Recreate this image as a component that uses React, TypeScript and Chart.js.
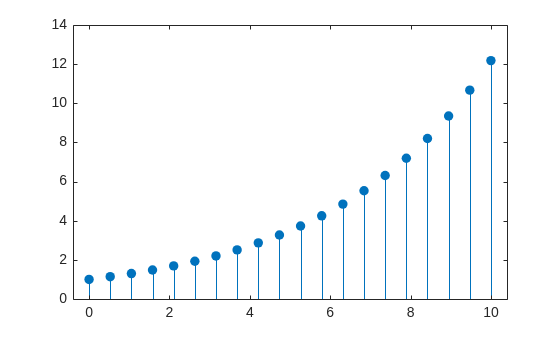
import React, { useEffect, useRef } from "react";
import { Chart, registerables } from "chart.js";

Chart.register(...registerables);

const xValues = [0, 0.526, 1.053, 1.579, 2.105, 2.632, 3.158, 3.684, 4.211, 4.737, 5.263, 5.789, 6.316, 6.842, 7.368, 7.895, 8.421, 8.947, 9.474, 10];
const yValues = [1.0, 1.14, 1.3, 1.48, 1.69, 1.93, 2.2, 2.51, 2.87, 3.27, 3.73, 4.25, 4.85, 5.53, 6.31, 7.19, 8.2, 9.35, 10.67, 12.18];
const xTicks = [0, 2, 4, 6, 8, 10];
const yTicks = [0, 2, 4, 6, 8, 10, 12, 14];

const AXIS = "#262626";
const BLUE = "#0072BD";
const FONT = "'Liberation Sans', Arial, sans-serif";

const stemPlugin = {
  id: "stems",
  beforeDatasetsDraw(chart: any) {
    const { ctx, scales } = chart;
    const meta = chart.getDatasetMeta(0);
    const base = scales.y.getPixelForValue(0);
    ctx.save();
    ctx.strokeStyle = BLUE;
    ctx.lineWidth = 1;
    ctx.beginPath();
    for (const el of meta.data) {
      const px = Math.round(el.x) + 0.5;
      ctx.moveTo(px, Math.round(base));
      ctx.lineTo(px, el.y);
    }
    ctx.stroke();
    ctx.restore();
  },
};

const boxPlugin = {
  id: "boxTicks",
  afterDatasetsDraw(chart: any) {
    const { ctx, chartArea, scales } = chart;
    const { left, right, top, bottom } = chartArea;
    ctx.save();
    ctx.strokeStyle = AXIS;
    ctx.lineWidth = 1;
    ctx.beginPath();
    const L = Math.round(left) + 0.5, R = Math.round(right) + 0.5, T = Math.round(top) + 0.5, B = Math.round(bottom) + 0.5;
    ctx.rect(L, T, R - L, B - T);
    const tl = 4;
    for (const v of xTicks) {
      const px = Math.round(scales.x.getPixelForValue(v)) + 0.5;
      ctx.moveTo(px, B); ctx.lineTo(px, B - tl);
      ctx.moveTo(px, T); ctx.lineTo(px, T + tl);
    }
    for (const v of yTicks) {
      const py = Math.round(scales.y.getPixelForValue(v)) + 0.5;
      ctx.moveTo(L, py); ctx.lineTo(L + tl, py);
      ctx.moveTo(R, py); ctx.lineTo(R - tl, py);
    }
    ctx.stroke();
    ctx.restore();
  },
};

export default function App() {
  const ref = useRef<HTMLCanvasElement>(null);
  useEffect(() => {
    document.body.style.margin = "0";
    const pts = xValues.map((x, i) => ({ x, y: yValues[i] }));
    const chart = new Chart(ref.current as HTMLCanvasElement, {
      type: "scatter",
      data: {
        datasets: [
          {
            data: pts,
            backgroundColor: BLUE,
            borderColor: BLUE,
            pointRadius: 4.7,
            pointBorderWidth: 0,
          },
        ],
      },
      plugins: [stemPlugin, boxPlugin],
      options: {
        animation: false,
        responsive: false,
        events: [],
        layout: { padding: { left: 0, top: 25, right: 53, bottom: 0 } },
        plugins: { legend: { display: false }, tooltip: { enabled: false } },
        scales: {
          x: {
            type: "linear",
            min: -0.4,
            max: 10.4,
            grid: { display: false, drawTicks: false },
            border: { display: false },
            afterBuildTicks: (s: any) => { s.ticks = xTicks.map((v) => ({ value: v })); },
            afterFit: (s: any) => { s.height = 38; },
            ticks: { color: AXIS, padding: 6, maxRotation: 0, font: { family: FONT, size: 14 } },
          },
          y: {
            type: "linear",
            min: 0,
            max: 14,
            grid: { display: false, drawTicks: false },
            border: { display: false },
            afterBuildTicks: (s: any) => { s.ticks = yTicks.map((v) => ({ value: v })); },
            afterFit: (s: any) => { s.width = 73; },
            ticks: { color: AXIS, padding: 6, font: { family: FONT, size: 14 } },
          },
        },
      } as any,
    });
    return () => chart.destroy();
  }, []);
  return (
    <div style={{ position: "fixed", left: 0, top: 0, width: 560, height: 337, background: "#fff" }}>
      <canvas ref={ref} width={560} height={337} style={{ width: 560, height: 337 }} />
    </div>
  );
}
